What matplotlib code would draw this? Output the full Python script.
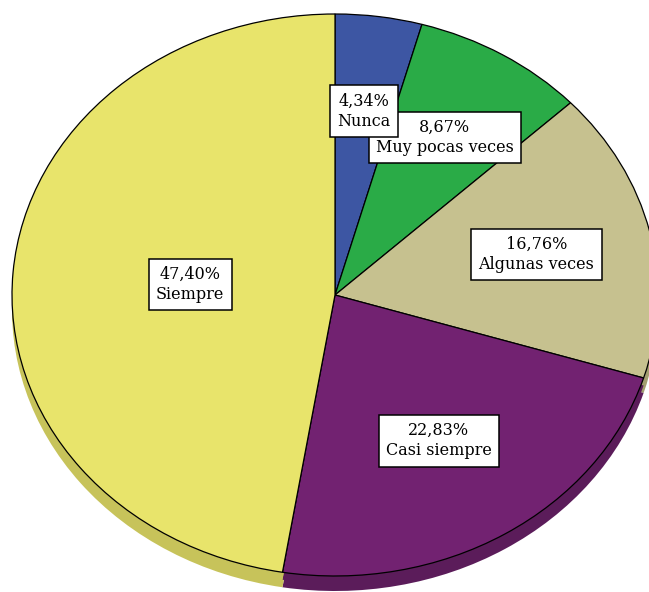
import numpy as np
import matplotlib
matplotlib.use("Agg")
import matplotlib.pyplot as plt

# Response categories and their shares (%)
categories = ["Nunca", "Muy pocas veces", "Algunas veces", "Casi siempre", "Siempre"]
percentages = [4.34, 8.67, 16.76, 22.83, 47.40]
pct_labels = ["4,34%", "8,67%", "16,76%", "22,83%", "47,40%"]

top_colors = ["#3d56a3", "#2aab47", "#c6c18f", "#722271", "#e8e46b"]
side_colors = ["#2f4480", "#208a38", "#a39e70", "#5b1c5a", "#c7c35a"]
label_radius = [0.66, 0.655, 0.64, 0.61, 0.45]

W, H = 649, 592
cx, cy = 335, 295          # pie centre, pixels
rx, ry = 323, 281          # horizontal / vertical radius, pixels
depth_px = 15

fig = plt.figure(figsize=(W / 100, H / 100), dpi=100)
ax = fig.add_axes([0, 0, 1, 1])

depth = depth_px / ry
# side of the disc: shifted copies drawn underneath
for frac in (1.0, 0.5):
    ax.pie(percentages, startangle=90, counterclock=False, colors=side_colors,
           center=(0, -depth * frac), radius=1,
           wedgeprops=dict(edgecolor="none", linewidth=0))
# top face
ax.pie(percentages, startangle=90, counterclock=False, colors=top_colors,
       radius=1, wedgeprops=dict(edgecolor="black", linewidth=0.9))

# labels along each wedge's mid angle; first slice's label sits on top
cum = np.cumsum([0] + percentages)
for i, (cat, pl) in enumerate(zip(categories, pct_labels)):
    mid = (cum[i] + cum[i + 1]) / 2 / 100 * 2 * np.pi
    x = label_radius[i] * np.sin(mid)
    y = label_radius[i] * np.cos(mid)
    ax.text(x, y, f"{pl}\n{cat}", ha="center", va="center",
            family="DejaVu Serif", fontsize=11.5, linespacing=1.25,
            bbox=dict(boxstyle="square,pad=0.45", facecolor="white",
                      edgecolor="black", linewidth=1.1), zorder=20 - i)

ax.set_aspect("auto")
ax.set_xlim(-cx / rx, (W - cx) / rx)
ax.set_ylim(-(H - cy) / ry, cy / ry)
ax.axis("off")

fig.savefig("out.png", dpi=100)
